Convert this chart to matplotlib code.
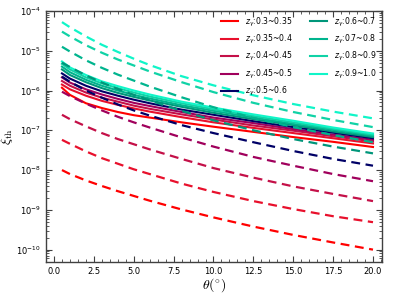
import numpy as np
import matplotlib
matplotlib.use("Agg")
import matplotlib.pyplot as plt
from matplotlib.ticker import MultipleLocator, LogLocator, NullFormatter

# viewing angle (deg)
theta = [0.5, 1, 2, 3, 4, 5, 6, 8, 10, 12.5, 15, 17.5, 20]

labels = ["0.3~0.35", "0.35~0.4", "0.4~0.45", "0.45~0.5", "0.5~0.6",
          "0.6~0.7", "0.7~0.8", "0.8~0.9", "0.9~1.0"]
colors = ["#ff0000", "#e8102c", "#c41048", "#a0005c", "#000066",
          "#00967a", "#00b48e", "#10d2a6", "#10f5c8"]

# log10(xi_th), solid curves
solid_1 = [-5.93, -6.11, -6.32, -6.44, -6.54, -6.62, -6.68, -6.80, -6.91, -7.04, -7.17, -7.29, -7.42]
solid_2 = [-5.85, -5.97, -6.13, -6.26, -6.36, -6.45, -6.53, -6.67, -6.80, -6.94, -7.07, -7.20, -7.33]
solid_3 = [-5.76, -5.88, -6.05, -6.18, -6.28, -6.38, -6.46, -6.60, -6.73, -6.88, -7.01, -7.15, -7.28]
solid_4 = [-5.67, -5.80, -5.97, -6.10, -6.21, -6.31, -6.39, -6.54, -6.68, -6.82, -6.97, -7.11, -7.24]
solid_5 = [-5.57, -5.70, -5.88, -6.02, -6.13, -6.23, -6.32, -6.48, -6.61, -6.77, -6.92, -7.06, -7.20]
solid_6 = [-5.47, -5.61, -5.79, -5.94, -6.06, -6.16, -6.25, -6.41, -6.56, -6.72, -6.87, -7.03, -7.17]
solid_7 = [-5.40, -5.54, -5.73, -5.88, -6.00, -6.11, -6.20, -6.37, -6.51, -6.68, -6.84, -6.99, -7.14]
solid_8 = [-5.33, -5.47, -5.67, -5.82, -5.94, -6.05, -6.15, -6.32, -6.47, -6.64, -6.80, -6.96, -7.11]
solid_9 = [-5.27, -5.42, -5.61, -5.77, -5.89, -6.00, -6.10, -6.28, -6.43, -6.60, -6.76, -6.93, -7.08]

# log10(xi_th), dashed curves
dash_1 = [-8.00, -8.10, -8.26, -8.40, -8.53, -8.65, -8.77, -8.99, -9.19, -9.42, -9.63, -9.82, -10.00]
dash_2 = [-7.24, -7.34, -7.53, -7.70, -7.84, -7.98, -8.10, -8.34, -8.55, -8.78, -8.98, -9.16, -9.31]
dash_3 = [-6.61, -6.72, -6.90, -7.07, -7.22, -7.35, -7.48, -7.72, -7.95, -8.19, -8.41, -8.60, -8.78]
dash_4 = [-6.03, -6.14, -6.33, -6.50, -6.66, -6.80, -6.93, -7.18, -7.41, -7.67, -7.89, -8.10, -8.28]
dash_5 = [-5.65, -5.78, -6.00, -6.18, -6.35, -6.50, -6.63, -6.87, -7.07, -7.30, -7.52, -7.72, -7.89]
dash_6 = [-5.30, -5.41, -5.62, -5.80, -5.96, -6.11, -6.25, -6.51, -6.75, -7.00, -7.22, -7.41, -7.58]
dash_7 = [-4.90, -5.02, -5.24, -5.43, -5.60, -5.75, -5.90, -6.17, -6.42, -6.69, -6.92, -7.12, -7.30]
dash_8 = [-4.52, -4.64, -4.86, -5.05, -5.22, -5.37, -5.52, -5.79, -6.04, -6.31, -6.54, -6.74, -6.92]
dash_9 = [-4.28, -4.41, -4.64, -4.85, -5.03, -5.20, -5.36, -5.64, -5.87, -6.12, -6.34, -6.53, -6.70]

solids = [solid_1, solid_2, solid_3, solid_4, solid_5, solid_6, solid_7, solid_8, solid_9]
dashes = [dash_1, dash_2, dash_3, dash_4, dash_5, dash_6, dash_7, dash_8, dash_9]

fig = plt.figure(figsize=(3.95, 2.96), dpi=100)
ax = fig.add_axes([0.1165, 0.115, 0.85, 0.848])

for i in range(9):
    ax.plot(theta, 10**np.array(solids[i]), color=colors[i], lw=1.5,
            label=r'$z_{\gamma}$:' + labels[i])
for i in range(9):
    ax.plot(theta, 10**np.array(dashes[i]), color=colors[i], lw=1.6,
            ls=(0, (4, 2.5)))

ax.set_yscale('log')
ax.set_xlim(-0.5, 20.55)
ax.set_ylim(4.9e-11, 1e-4)

ax.xaxis.set_major_locator(MultipleLocator(2.5))
ax.xaxis.set_minor_locator(MultipleLocator(0.5))
ax.yaxis.set_major_locator(LogLocator(base=10, numticks=20))
ax.yaxis.set_minor_locator(LogLocator(base=10, subs=np.arange(2, 10), numticks=20))
ax.yaxis.set_minor_formatter(NullFormatter())
ax.tick_params(which='both', direction='in', top=True, right=True,
               labelsize=6, color='0.25')
ax.tick_params(which='major', length=4, width=0.8)
ax.tick_params(which='minor', length=2, width=0.6)
for s in ax.spines.values():
    s.set_color('0.25')
    s.set_linewidth(1.0)

ax.set_xlabel(r'$\theta(^{\circ})$', fontsize=10, math_fontfamily='cm', labelpad=0)
ax.set_ylabel(r'$\xi_{\rm th}$', fontsize=10, math_fontfamily='cm', labelpad=1)

ax.legend(ncol=2, loc='upper right', frameon=False, fontsize=5.6,
          handlelength=2.2, handletextpad=0.9, labelspacing=0.55,
          columnspacing=2.2, borderaxespad=0.2, borderpad=0.4)

fig.savefig('out.png', dpi=100)
